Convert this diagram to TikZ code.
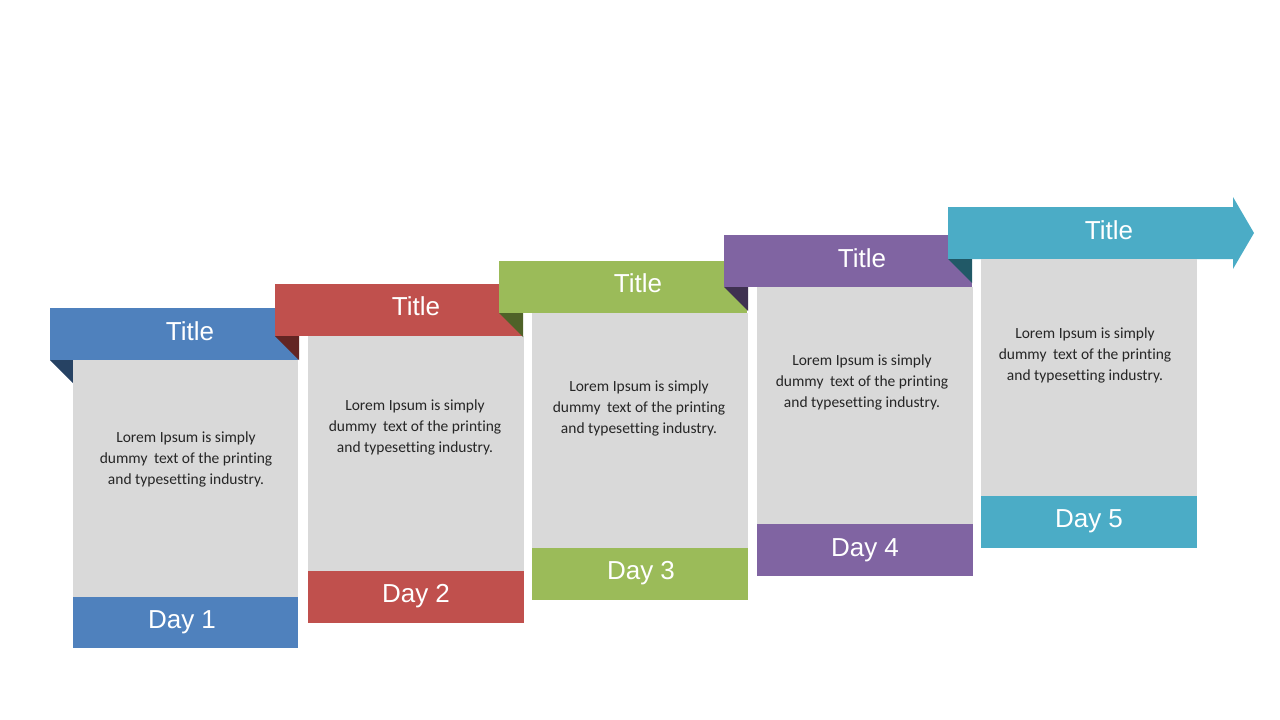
\documentclass[tikz,border=0pt]{standalone}
\usepackage{fontspec}
\setmainfont{Carlito}[Ligatures={NoCommon,NoRequired,NoContextual}]
\newfontfamily\arialfont{Liberation Sans}
\usetikzlibrary{positioning}

\definecolor{boxgray}{HTML}{D9D9D9}
\definecolor{bodytext}{HTML}{262626}
\definecolor{dayblue}{HTML}{4F81BD}
\definecolor{dayblued}{HTML}{264263}
\definecolor{dayred}{HTML}{C0504D}
\definecolor{dayredd}{HTML}{632523}
\definecolor{daygreen}{HTML}{9BBB59}
\definecolor{daygreend}{HTML}{4F6228}
\definecolor{daypurple}{HTML}{8064A2}
\definecolor{daypurpled}{HTML}{3F3151}
\definecolor{dayteal}{HTML}{4BACC6}
\definecolor{daytealld}{HTML}{215967}

\newcommand{\lorem}{Lorem Ipsum is simply\\dummy\hspace{3pt} text of the printing\\and typesetting industry.}

\begin{document}
\begin{tikzpicture}[x=1pt, y=-1pt]
    \tikzstyle{every node} = [inner sep=0pt]
    \tikzstyle{head} = [font=\arialfont\fontsize{26}{30}\selectfont, text=white, anchor=base]
    \tikzstyle{body} = [font=\fontsize{15.5}{21}\selectfont, align=center, text=bodytext]
    \useasboundingbox (0,0) rectangle (1280,720);
    % Day 1
      \fill [dayblue] (50,308) rectangle (298,360);
      \fill [dayblued] (50,360) -- (74,360) -- (74,384) -- cycle;
      \fill [boxgray] (73,360) rectangle (298,597);
      \fill [dayblue] (73,597) rectangle (298,648);
    \node (title1) [head] at (190,340) {Title};
    \node (text1) [body] at (186,459) {\lorem};
    \node (day1) [head] at (182,628) {Day 1};
    % Day 2
      \fill [dayred] (275,284) rectangle (523,336);
      \fill [dayredd] (275,336) -- (299,336) -- (299,360) -- cycle;
      \fill [boxgray] (308,336) rectangle (524,571);
      \fill [dayred] (308,571) rectangle (524,623);
    \node (title2) [head] at (416,315) {Title};
    \node (text2) [body] at (415,427) {\lorem};
    \node (day2) [head] at (416,602) {Day 2};
    % Day 3
      \fill [daygreen] (499,261) rectangle (747,313);
      \fill [daygreend] (499,313) -- (523,313) -- (523,337) -- cycle;
      \fill [boxgray] (532,313) rectangle (748,548);
      \fill [daygreen] (532,548) rectangle (748,600);
    \node (title3) [head] at (638,292) {Title};
    \node (text3) [body] at (639,408) {\lorem};
    \node (day3) [head] at (641,579) {Day 3};
    % Day 4
      \fill [daypurple] (724,235) rectangle (972,287);
      \fill [daypurpled] (724,287) -- (748,287) -- (748,311) -- cycle;
      \fill [boxgray] (757,287) rectangle (973,524);
      \fill [daypurple] (757,524) rectangle (973,576);
    \node (title4) [head] at (862,267) {Title};
    \node (text4) [body] at (862,382) {\lorem};
    \node (day4) [head] at (865,556) {Day 4};
    % Day 5
      \fill [dayteal] (948,207) -- (1233,207) -- (1233,197) -- (1254,233)
        -- (1233,269) -- (1233,259) -- (948,259) -- cycle;
      \fill [daytealld] (948,259) -- (972,259) -- (972,283) -- cycle;
      \fill [boxgray] (981,259) rectangle (1197,496);
      \fill [dayteal] (981,496) rectangle (1197,548);
    \node (title5) [head] at (1109,239) {Title};
    \node (text5) [body] at (1085,355) {\lorem};
    \node (day5) [head] at (1089,527) {Day 5};
  \end{tikzpicture}
\end{document}
